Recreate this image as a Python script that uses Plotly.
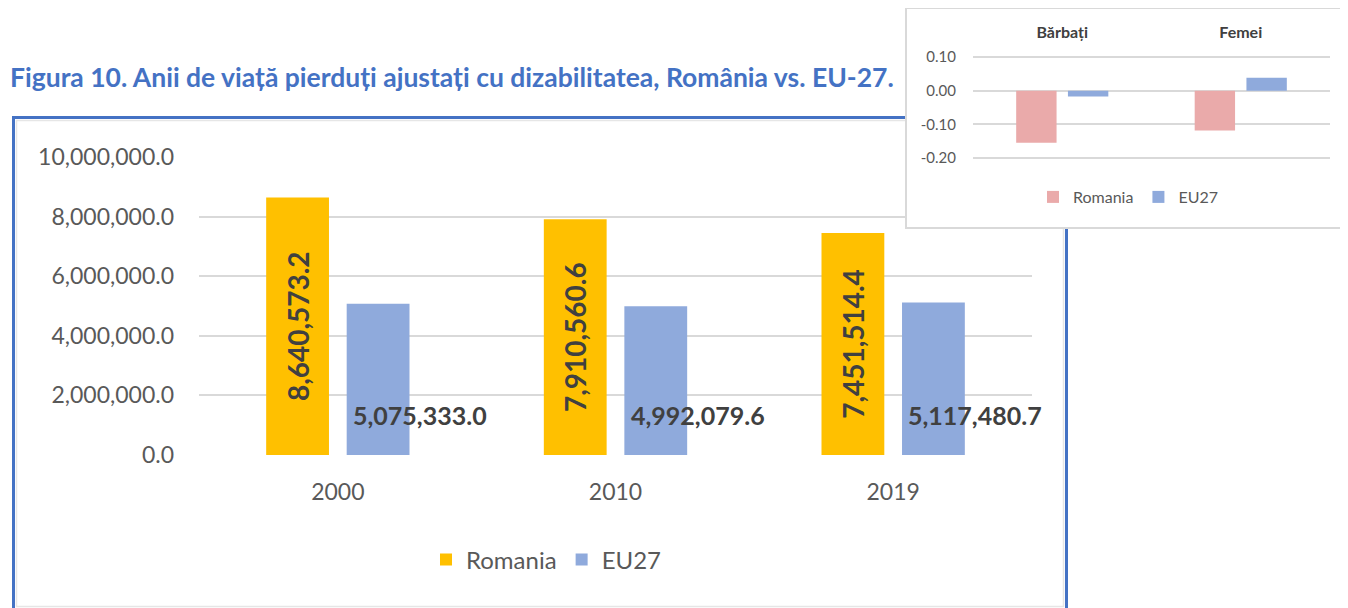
import plotly.graph_objects as go

# page body keeps an 8px margin, so the figure fills the rest of the 1348x608 window
OFF = 8
W, H = 1348 - OFF, 608 - OFF

# ---------------- data ----------------
years = ["2000", "2010", "2019"]
romania_daly = [8640573.2, 7910560.6, 7451514.4]
eu27_daly = [5075333.0, 4992079.6, 5117480.7]
main_ticks = [0, 2000000, 4000000, 6000000, 8000000, 10000000]

sexes = ["Bărbați", "Femei"]
romania_change = [-0.155, -0.118]
eu27_change = [-0.017, 0.038]
inset_ticks = [0.10, 0.00, -0.10, -0.20]
inset_tick_labels = ["0.10", "0.00", "-0.10", "-0.20"]

title_text = "Figura 10. Anii de viață pierduți ajustați cu dizabilitatea, România vs. EU-27."

# ---------------- style ----------------
FONT = "Lato"
C_RO = "#FFC000"
C_EU = "#8FAADC"
C_RO2 = "#EAAAAA"
C_GRID = "#D9D9D9"
C_TXT = "#595959"
C_LBL = "#404040"
C_FRAME = "#4472C4"


def fx(px):
    return (px - OFF) / W


def fy(py):
    return 1 - (py - OFF) / H


def fmt(v):
    return f"{v:,.1f}"


fig = go.Figure()

# main chart
fig.add_trace(go.Bar(
    x=years, y=romania_daly, name="Romania", marker=dict(color=C_RO, line=dict(width=0)),
    text=[fmt(v) for v in romania_daly], textposition="inside", textangle=-90,
    insidetextanchor="middle", constraintext="none",
    textfont=dict(family=FONT, size=28, color=C_LBL, weight="bold"),
    xaxis="x", yaxis="y", legend="legend", hoverinfo="skip",
))
fig.add_trace(go.Bar(
    x=years, y=eu27_daly, name="EU27", marker=dict(color=C_EU, line=dict(width=0)),
    xaxis="x", yaxis="y", legend="legend", hoverinfo="skip",
))

# inset chart
fig.add_trace(go.Bar(
    x=sexes, y=romania_change, name="Romania", marker=dict(color=C_RO2, line=dict(width=0)),
    xaxis="x3", yaxis="y3", legend="legend2", hoverinfo="skip",
))
fig.add_trace(go.Bar(
    x=sexes, y=eu27_change, name="EU27", marker=dict(color=C_EU, line=dict(width=0)),
    xaxis="x3", yaxis="y3", legend="legend2", hoverinfo="skip",
))

annotations = [
    dict(text=f"<b>{title_text}</b>", x=fx(8), y=fy(77), xref="paper", yref="paper",
         xanchor="left", yanchor="middle", showarrow=False,
         font=dict(family=FONT, size=26.5, color=C_FRAME)),
]
for i, v in enumerate(eu27_daly):
    annotations.append(dict(
        text=fmt(v), x=i, y=0, xref="x", yref="y", xanchor="left", yanchor="middle",
        xshift=13, yshift=40, showarrow=False,
        font=dict(family=FONT, size=25, color=C_LBL, weight="bold"),
    ))

shapes = [
    # outer blue frame of the main chart
    dict(type="rect", xref="paper", yref="paper", x0=fx(13.5), x1=fx(1066.5),
         y0=fy(640), y1=fy(117.5), line=dict(color=C_FRAME, width=3),
         fillcolor="rgba(0,0,0,0)", layer="below"),
    # inner light border
    dict(type="rect", xref="paper", yref="paper", x0=fx(16.5), x1=fx(1063.5),
         y0=fy(606.5), y1=fy(120.5), line=dict(color="#E6E6E6", width=1.5),
         fillcolor="rgba(0,0,0,0)", layer="below"),
    # white inset box (drawn in x2y2 subplot, above main chart)
    dict(type="rect", xref="x2", yref="y2", x0=0, x1=1, y0=0, y1=1,
         fillcolor="white", line=dict(width=0), layer="below"),
]

fig.update_layout(
    width=W, height=H, autosize=False,
    margin=dict(l=0, r=0, t=0, b=0, pad=0, autoexpand=False),
    paper_bgcolor="white", plot_bgcolor="white",
    barmode="group", bargap=0.42, bargroupgap=0.22,
    font=dict(family=FONT, color=C_TXT),
    showlegend=True,
    xaxis=dict(domain=[fx(199), fx(1032)], anchor="y", type="category",
               range=[-0.5, len(years) - 0.5],
               showgrid=False, showline=False, ticks="", zeroline=False,
               tickfont=dict(family=FONT, size=23, color=C_TXT), ticklabelstandoff=21),
    yaxis=dict(domain=[fy(455), fy(157)], anchor="x", range=[0, 10000000],
               tickvals=main_ticks, tickformat=",.1f",
               showgrid=True, gridcolor=C_GRID, gridwidth=2, zeroline=False,
               showline=False, ticks="",
               tickfont=dict(family=FONT, size=23, color=C_TXT), ticklabelstandoff=24),
    xaxis2=dict(domain=[fx(907), fx(1346)], anchor="y2", range=[0, 1],
                showgrid=False, zeroline=False, showticklabels=False, ticks="",
                showline=True, mirror=True, linecolor=C_GRID, linewidth=2, fixedrange=True),
    yaxis2=dict(domain=[fy(227), fy(9)], anchor="x2", range=[0, 1],
                showgrid=False, zeroline=False, showticklabels=False, ticks="",
                showline=True, mirror=True, linecolor=C_GRID, linewidth=2, fixedrange=True),
    xaxis3=dict(domain=[fx(973), fx(1330)], anchor="y3", type="category", side="top",
                range=[-0.5, len(sexes) - 0.5],
                showgrid=False, zeroline=False, showline=False, ticks="",
                tickfont=dict(family=FONT, size=16, color=C_LBL, weight="bold"),
                ticklabelstandoff=13),
    yaxis3=dict(domain=[fy(159.7), fy(55.3)], anchor="x3", range=[-0.205, 0.105],
                tickvals=inset_ticks, ticktext=inset_tick_labels,
                showgrid=True, gridcolor=C_GRID, gridwidth=1.5, zeroline=False,
                showline=False, ticks="",
                tickfont=dict(family=FONT, size=15, color=C_TXT), ticklabelstandoff=16),
    legend=dict(orientation="h", x=fx(546), y=fy(560), xanchor="center", yanchor="middle",
                font=dict(family=FONT, size=24, color=C_TXT), bgcolor="rgba(0,0,0,0)",
                itemclick=False, itemdoubleclick=False),
    legend2=dict(orientation="h", x=fx(1128), y=fy(197), xanchor="center", yanchor="middle",
                 font=dict(family=FONT, size=16, color=C_TXT), bgcolor="rgba(0,0,0,0)",
                 itemclick=False, itemdoubleclick=False),
    annotations=annotations,
    shapes=shapes,
)

fig.write_html("out.html")
